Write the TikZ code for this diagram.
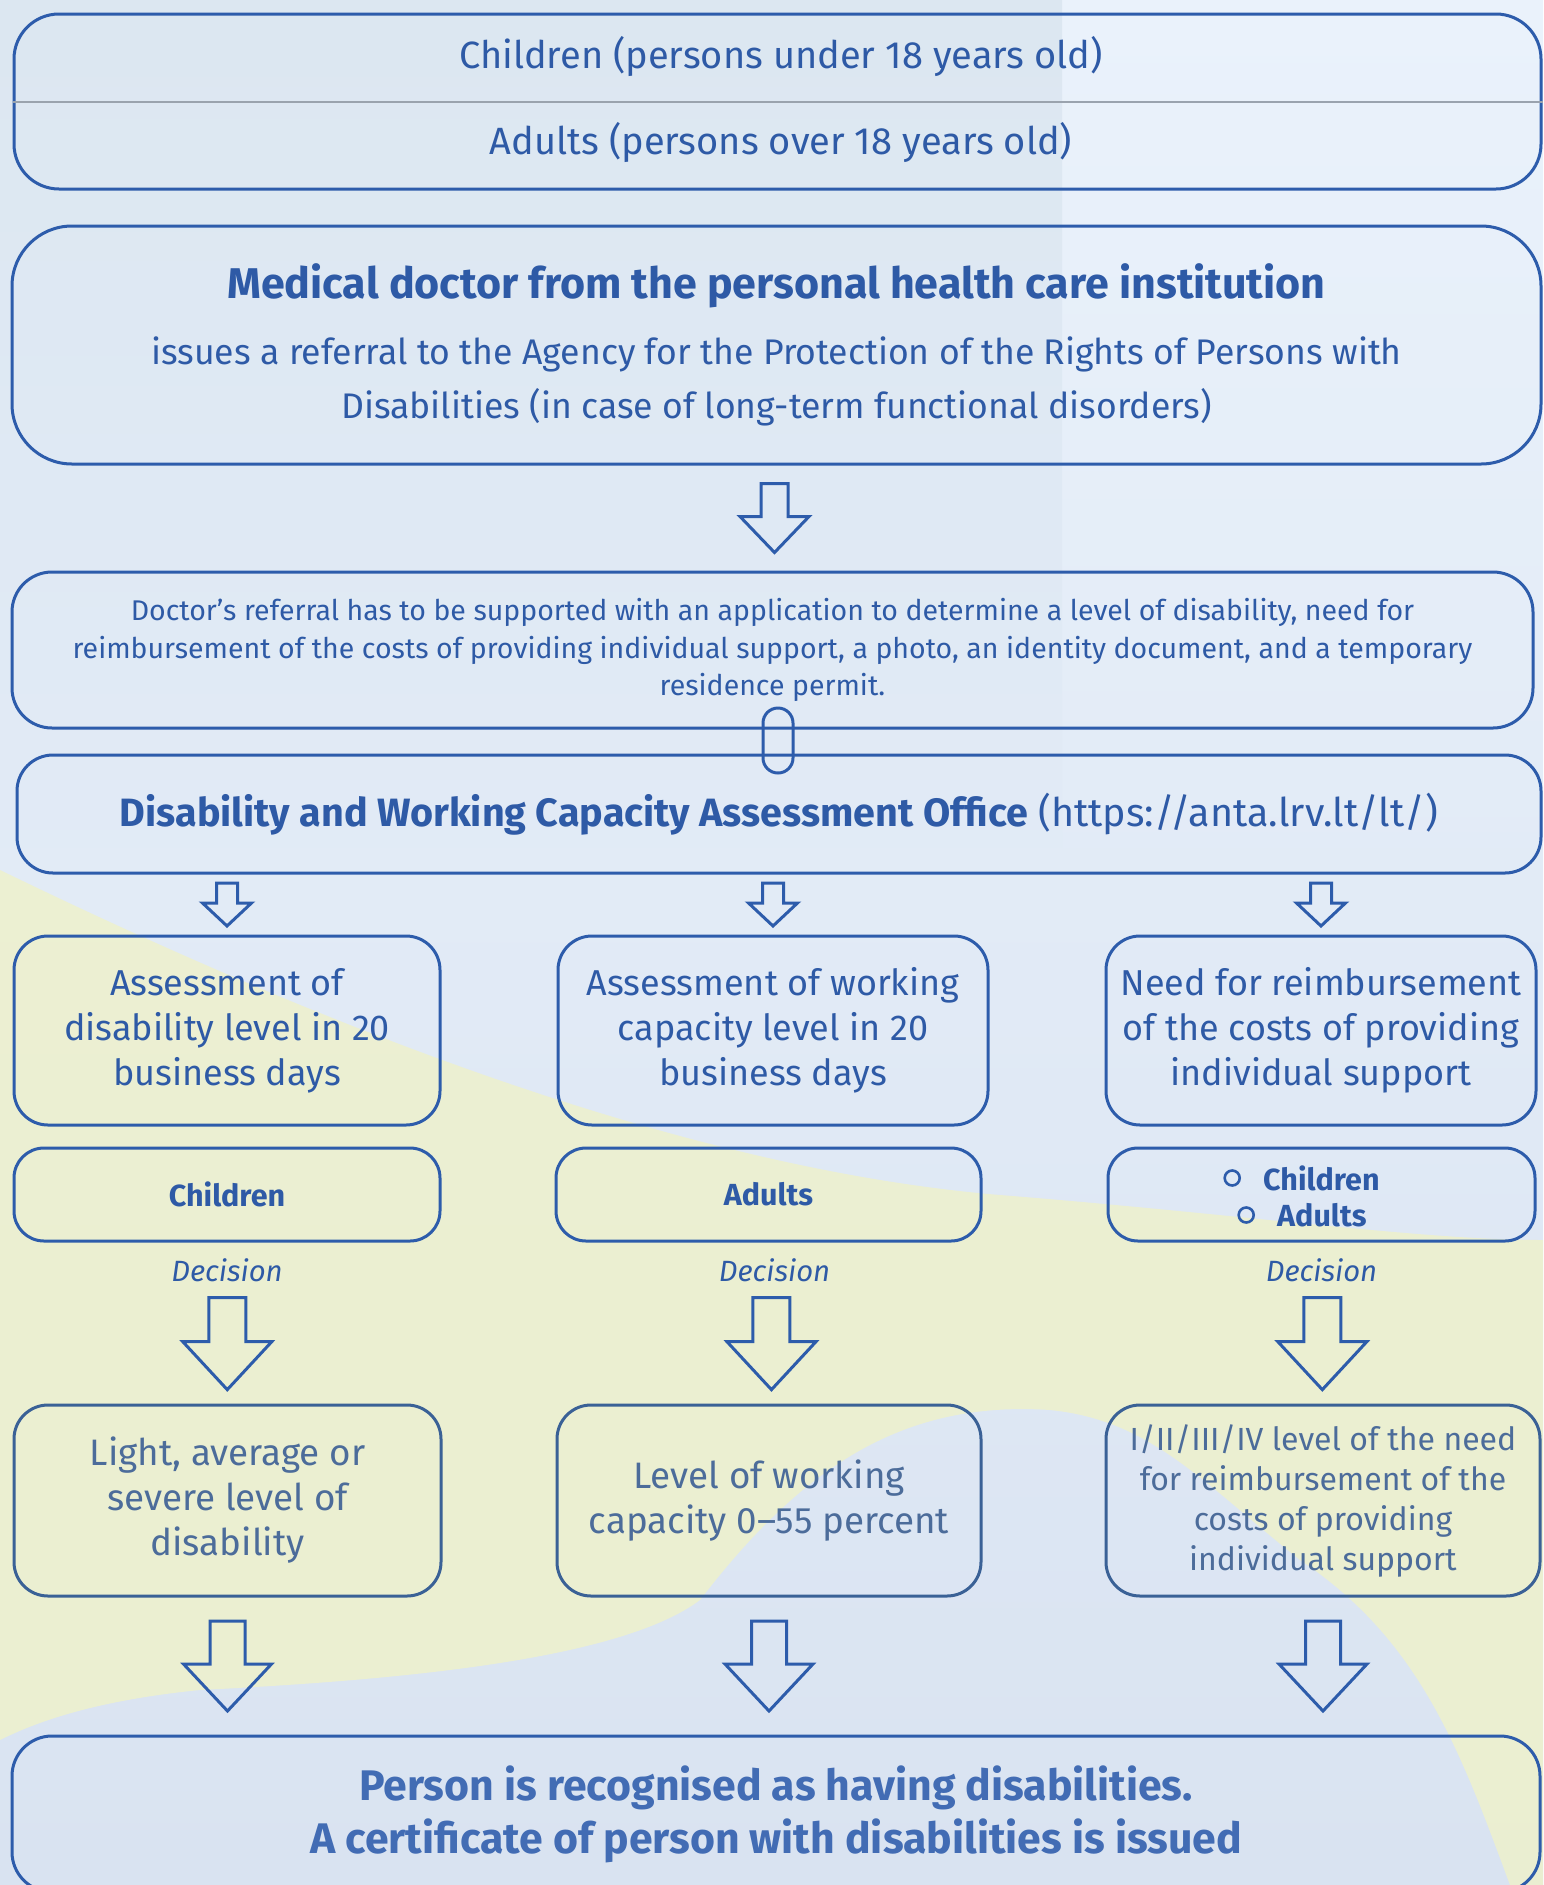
\documentclass[tikz,border=0pt]{standalone}
\usepackage{fontspec}
\setmainfont{Fira Sans}
\usetikzlibrary{calc,positioning}

\definecolor{frame}{HTML}{2D5CAB}
\definecolor{ink}{HTML}{2E5AA6}
\definecolor{dimframe}{HTML}{3A6196}
\definecolor{dimink}{HTML}{4C6C9A}
\definecolor{skytop}{HTML}{EAF2FB}
\definecolor{skylow}{HTML}{D9E3F1}
\definecolor{mist}{HTML}{DCE7F1}
\definecolor{wheat}{HTML}{EEF1CC}
\definecolor{rule}{HTML}{9AA3AE}

\tikzset{
  pics/downarrow/.style args={#1/#2/#3/#4}{code={
    \draw[blockarrow] (-#1,-#3/2) -- (#1,-#3/2) -- (#1,#3/2-#4) -- (#2,#3/2-#4)
      -- (0,#3/2) -- (-#2,#3/2-#4) -- (-#1,#3/2-#4) -- cycle;
  }}
}

\begin{document}
\begin{tikzpicture}[x=1pt,y=-1pt,
    every node/.style={inner sep=0pt},
    box/.style={draw=frame,line width=3pt,rounded corners=#1,align=center,text=ink},
    box/.default=38pt,
    blockarrow/.style={draw=frame,line width=3pt,line join=miter},
    agetext/.style={text=ink,font=\fontsize{38}{44}\selectfont},
    colbox/.style={box=34pt,minimum height=189pt,font=\fontsize{36}{45}\selectfont},
    whobox/.style={box=30pt,minimum height=93pt,font=\bfseries\fontsize{30.5}{37}\selectfont},
    whotext/.style={text=ink,anchor=west,font=\bfseries\fontsize{30.5}{37}\selectfont},
    bullet/.style={circle,draw=frame,line width=2.6pt,minimum size=15pt},
    resbox/.style={box=34pt,draw=dimframe,text=dimink,minimum height=191pt,font=\fontsize{36.8}{45}\selectfont},
    decision/.style={text=ink,font=\itshape\fontsize{29.3}{32}\selectfont}]

  \useasboundingbox (0,0) rectangle (1543,1885);
  \clip (0,0) rectangle (1543,1885);
  \shade[top color=skytop,bottom color=skylow] (0,0) rectangle (1543,1885);
  \shade[top color=mist,bottom color=skytop!52!skylow] (0,0) rectangle (1062,900);
  \fill[wheat,opacity=.85] (0,870) .. controls (350,1040) and (700,1170) .. (1000,1195)
    .. controls (1250,1215) and (1420,1240) .. (1543,1240) -- (1543,1885) -- (1510,1885)
    .. controls (1460,1750) and (1420,1640) .. (1300,1560)
    .. controls (1200,1480) and (1150,1420) .. (1050,1410)
    .. controls (900,1400) and (800,1470) .. (700,1600)
    .. controls (620,1660) and (400,1680) .. (200,1690)
    .. controls (100,1700) and (40,1720) .. (0,1740) -- cycle;

  % top boxes
  \node[box=45pt,minimum width=1527pt,minimum height=175pt] (ages) at (777.5,101.5) {};
  \draw[rule,line width=2pt] (ages.west) -- (ages.east);
  \node[agetext] (kids) at (781,56) {Children (persons under 18 years old)};
  \node[agetext] (grown) at (781,142) {Adults (persons over 18 years old)};

  \node[box=60pt,minimum width=1529pt,minimum height=238pt,font=\fontsize{35.6}{54}\selectfont] (doc) at (776.5,345)
    {{\bfseries\fontsize{43}{46}\selectfont Medical doctor from the personal health care institution}\\[12pt]
     issues a referral to the Agency for the Protection of the Rights of Persons with\\
     Disabilities (in case of long-term functional disorders)};

  \node[box=40pt,minimum width=1521pt,minimum height=156pt,font=\fontsize{28.5}{37.5}\selectfont] (ref) at (772.5,650)
    {Doctor's referral has to be supported with an application to determine a level of disability, need for\\
     reimbursement of the costs of providing individual support, a photo, an identity document, and a temporary\\
     residence permit.};

  \node[box=36pt,minimum width=1524pt,minimum height=118pt,font=\fontsize{39.5}{44}\selectfont] (office) at (779,814)
    {\textbf{Disability and Working Capacity Assessment Office} (https://anta.lrv.lt/lt/)};

  \draw[frame,line width=3pt,rounded corners=15pt] (763,708) rectangle (793,773);
  %\draw[frame,line width=3pt] (ref.south) -- (office.north);

  \pic at ($(doc.south)!0.5!(ref.north)$) {downarrow=13.5/34.5/69/36};

  % three columns
  \node[colbox,minimum width=426pt] (askL) at (227,1030.5) {Assessment of\\ disability level in 20\\ business days};
  \node[colbox,minimum width=430pt] (askM) at (773,1030.5) {Assessment of working\\ capacity level in 20\\ business days};
  \node[colbox,minimum width=430pt] (askR) at (1321,1030.5) {Need for reimbursement\\ of the costs of providing\\ individual support};

  \node[whobox,minimum width=426pt] (whoL) at (227,1194.5) {Children};
  \node[whobox,minimum width=425pt] (whoM) at (768.5,1194.5) {Adults};
  \node[whobox,minimum width=427pt] (whoR) at (1321.5,1194.5) {};
  \node[whotext] (kidsR) at (1263,1178) {Children};
  \node[whotext] (grownR) at (1277,1215) {Adults};
  \node[bullet,left=22pt of kidsR] (dotA) {};
  \node[bullet,left=22pt of grownR] (dotB) {};

  \node[decision,below=28pt of whoL.south,anchor=center] (decL) {Decision};
  \node[decision,below=28pt of whoM.south,anchor=center,xshift=6pt] (decM) {Decision};
  \node[decision,below=28pt of whoR.south,anchor=center] (decR) {Decision};

  \node[resbox,minimum width=427pt] (resL) at (227.5,1500.5) {Light, average or\\ severe level of\\ disability};
  \node[resbox,minimum width=424pt] (resM) at (769,1500.5) {Level of working\\ capacity 0–55 percent};
  \node[resbox,minimum width=434pt,font=\fontsize{32}{40}\selectfont] (resR) at (1323,1500.5)
    {I/II/III/IV level of the need\\ for reimbursement of the\\ costs of providing\\ individual support};

  \node[box=40pt,minimum width=1528pt,minimum height=156pt,text=frame!90!white,font=\bfseries\fontsize{42.8}{53}\selectfont] (final) at (776,1814)
    {Person is recognised as having disabilities.\\ A certificate of person with disabilities is issued};

  % arrows between the rows
  \foreach \col in {L,M,R}{
    \pic at ($(office.south -| ask\col.north)!0.5!(ask\col.north)$) {downarrow=10.5/24.5/43/23};
    \pic at ($(dec\col)!0.55!(res\col.north)$) {downarrow=18.5/44.5/92/48};
    \pic at ($(res\col.south)!0.5!(final.north -| res\col.south)$) {downarrow=17.5/44/90/47};
  }
\end{tikzpicture}
\end{document}
